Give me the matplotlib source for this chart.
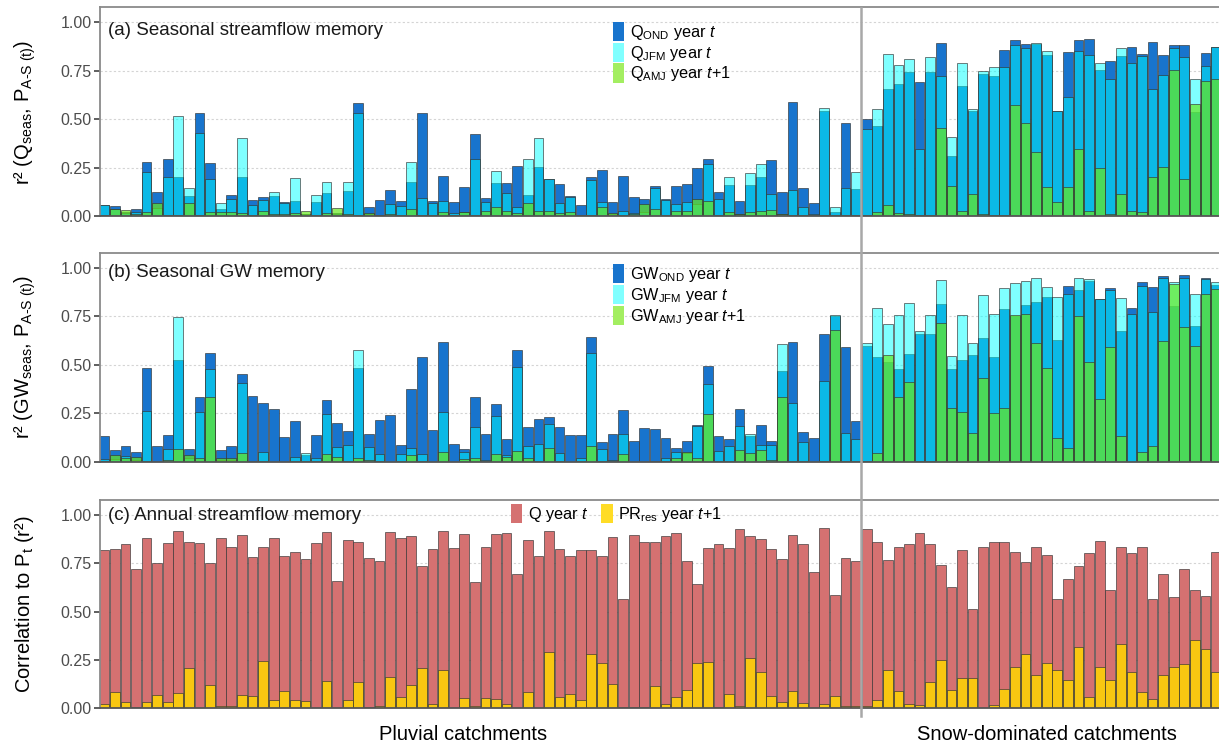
import matplotlib
matplotlib.use("Agg")
import matplotlib.pyplot as plt
from matplotlib.patches import Patch
from matplotlib.lines import Line2D
import numpy as np

plt.rcParams['font.family'] = ['Liberation Sans', 'DejaVu Sans']
plt.rcParams['mathtext.fontset'] = 'custom'
plt.rcParams['mathtext.rm'] = 'Liberation Sans'
plt.rcParams['mathtext.it'] = 'Liberation Sans:italic'
plt.rcParams['mathtext.bf'] = 'Liberation Sans:bold'
plt.rcParams['mathtext.default'] = 'regular'

# 72 pluvial catchments followed by snow-dominated ones (last one cut by the figure edge)
n_pluvial = 72

q_ond = [0.058, 0.052, 0.02, 0.036, 0.28, 0.126, 0.294, 0.203, 0.103, 0.53,
         0.272, 0.034, 0.11, 0.20, 0.083, 0.096, 0.103, 0.07, 0.076, 0.01,
         0.072, 0.12, 0.015, 0.129, 0.582, 0.046, 0.08, 0.136, 0.079, 0.174,
         0.532, 0.077, 0.206, 0.07, 0.151, 0.425, 0.091, 0.172, 0.169, 0.26,
         0.11, 0.251, 0.19, 0.165, 0.103, 0.055, 0.2, 0.236, 0.07, 0.206,
         0.1, 0.088, 0.155, 0.086, 0.155, 0.165, 0.25, 0.293, 0.124, 0.158,
         0.077, 0.16, 0.203, 0.289, 0.126, 0.59, 0.143, 0.065, 0.544, 0.022,
         0.478, 0.138,
         0.499, 0.465, 0.654, 0.682, 0.744, 0.69, 0.744, 0.892, 0.31, 0.671,
         0.544, 0.733, 0.723, 0.859, 0.907, 0.886, 0.886, 0.83, 0.544, 0.845,
         0.909, 0.912, 0.754, 0.8, 0.826, 0.874, 0.836, 0.9, 0.831, 0.88,
         0.881, 0.539, 0.843, 0.874]
q_jfm = [0.055, 0.035, 0.015, 0.02, 0.229, 0.04, 0.203, 0.518, 0.143, 0.427,
         0.189, 0.065, 0.086, 0.40, 0.055, 0.083, 0.122, 0.068, 0.198, 0.01,
         0.108, 0.174, 0.012, 0.174, 0.534, 0.01, 0.005, 0.062, 0.053, 0.277,
         0.095, 0.069, 0.079, 0.014, 0.02, 0.296, 0.07, 0.232, 0.117, 0.045,
         0.293, 0.403, 0.189, 0.065, 0.10, 0.005, 0.184, 0.072, 0.01, 0.024,
         0.017, 0.02, 0.146, 0.083, 0.06, 0.072, 0.06, 0.268, 0.086, 0.2,
         0.01, 0.22, 0.267, 0.114, 0.01, 0.134, 0.045, 0.01, 0.556, 0.045,
         0.143, 0.229,
         0.448, 0.551, 0.835, 0.781, 0.812, 0.344, 0.819, 0.725, 0.41, 0.792,
         0.554, 0.747, 0.771, 0.768, 0.88, 0.866, 0.895, 0.852, 0.54, 0.616,
         0.849, 0.833, 0.788, 0.707, 0.869, 0.788, 0.828, 0.657, 0.73, 0.866,
         0.819, 0.709, 0.776, 0.87]
q_amj = [0.005, 0.037, 0.03, 0.01, 0.02, 0.065, 0.005, 0.005, 0.065, 0.005,
         0.02, 0.02, 0.02, 0.014, 0.005, 0.024, 0.01, 0.01, 0.014, 0.024,
         0.005, 0.014, 0.04, 0.01, 0.005, 0.014, 0.005, 0.01, 0.005, 0.034,
         0.005, 0.005, 0.019, 0.005, 0.019, 0.005, 0.024, 0.048, 0.027, 0.014,
         0.065, 0.024, 0.024, 0.014, 0.02, 0.005, 0.005, 0.045, 0.017, 0.005,
         0.01, 0.06, 0.034, 0.005, 0.024, 0.024, 0.09, 0.076, 0.005, 0.02,
         0.01, 0.02, 0.024, 0.031, 0.01, 0.005, 0.005, 0.005, 0.005, 0.005,
         0.005, 0.005,
         0.005, 0.02, 0.055, 0.014, 0.008, 0.005, 0.005, 0.453, 0.155, 0.024,
         0.114, 0.008, 0.005, 0.005, 0.571, 0.482, 0.332, 0.148, 0.07, 0.148,
         0.348, 0.028, 0.248, 0.01, 0.112, 0.028, 0.02, 0.2, 0.251, 0.754,
         0.193, 0.576, 0.697, 0.705]

gw_ond = [0.134, 0.058, 0.081, 0.048, 0.485, 0.079, 0.136, 0.522, 0.065, 0.335,
          0.562, 0.058, 0.081, 0.454, 0.337, 0.301, 0.27, 0.125, 0.208, 0.034,
          0.137, 0.32, 0.2, 0.16, 0.481, 0.143, 0.215, 0.239, 0.084, 0.376,
          0.538, 0.162, 0.619, 0.089, 0.067, 0.335, 0.143, 0.296, 0.119, 0.574,
          0.177, 0.218, 0.232, 0.179, 0.136, 0.136, 0.644, 0.101, 0.143, 0.265,
          0.105, 0.175, 0.167, 0.124, 0.07, 0.105, 0.187, 0.491, 0.132, 0.117,
          0.27, 0.134, 0.187, 0.105, 0.469, 0.619, 0.151, 0.12, 0.656, 0.752,
          0.589, 0.21,
          0.598, 0.54, 0.515, 0.476, 0.553, 0.658, 0.658, 0.813, 0.478, 0.524,
          0.55, 0.636, 0.54, 0.789, 0.75, 0.808, 0.823, 0.847, 0.627, 0.905,
          0.887, 0.931, 0.839, 0.897, 0.674, 0.794, 0.928, 0.902, 0.957, 0.8,
          0.962, 0.699, 0.948, 0.91]
gw_jfm = [0.012, 0.015, 0.029, 0.01, 0.263, 0.0, 0.064, 0.744, 0.02, 0.254,
          0.476, 0.01, 0.01, 0.407, 0.004, 0.052, 0.0, 0.0, 0.022, 0.045,
          0.017, 0.244, 0.077, 0.086, 0.577, 0.074, 0.038, 0.0, 0.041, 0.072,
          0.038, 0.0, 0.254, 0.0, 0.052, 0.18, 0.01, 0.237, 0.034, 0.49,
          0.079, 0.089, 0.192, 0.046, 0.0, 0.02, 0.562, 0.064, 0.01, 0.141,
          0.0, 0.0, 0.0, 0.017, 0.048, 0.045, 0.184, 0.399, 0.057, 0.079,
          0.182, 0.141, 0.086, 0.086, 0.607, 0.304, 0.103, 0.0, 0.418, 0.754,
          0.146, 0.115,
          0.613, 0.792, 0.711, 0.756, 0.816, 0.675, 0.756, 0.938, 0.545, 0.754,
          0.612, 0.859, 0.761, 0.897, 0.923, 0.933, 0.945, 0.902, 0.849, 0.866,
          0.948, 0.943, 0.838, 0.883, 0.842, 0.763, 0.907, 0.77, 0.945, 0.928,
          0.945, 0.864, 0.943, 0.928]
gw_amj = [0.005, 0.034, 0.017, 0.024, 0.005, 0.0, 0.008, 0.064, 0.033, 0.017,
          0.332, 0.017, 0.017, 0.043, 0.0, 0.005, 0.0, 0.0, 0.005, 0.005,
          0.005, 0.038, 0.022, 0.005, 0.017, 0.01, 0.005, 0.0, 0.005, 0.034,
          0.005, 0.0, 0.052, 0.0, 0.012, 0.02, 0.005, 0.038, 0.026, 0.055,
          0.02, 0.005, 0.069, 0.005, 0.0, 0.005, 0.082, 0.005, 0.005, 0.038,
          0.0, 0.0, 0.005, 0.005, 0.017, 0.048, 0.017, 0.247, 0.005, 0.005,
          0.06, 0.043, 0.058, 0.01, 0.332, 0.005, 0.005, 0.0, 0.005, 0.677,
          0.005, 0.005,
          0.005, 0.045, 0.55, 0.335, 0.409, 0.005, 0.005, 0.713, 0.275, 0.258,
          0.15, 0.43, 0.249, 0.275, 0.756, 0.76, 0.61, 0.481, 0.12, 0.072,
          0.753, 0.512, 0.321, 0.593, 0.131, 0.0, 0.052, 0.081, 0.624, 0.914,
          0.696, 0.598, 0.863, 0.89]

q_annual = [0.819, 0.826, 0.85, 0.722, 0.881, 0.75, 0.853, 0.917, 0.859, 0.857,
            0.75, 0.881, 0.834, 0.895, 0.783, 0.833, 0.879, 0.786, 0.807, 0.771,
            0.857, 0.912, 0.657, 0.872, 0.86, 0.776, 0.76, 0.912, 0.881, 0.891,
            0.736, 0.826, 0.917, 0.829, 0.903, 0.652, 0.833, 0.902, 0.905, 0.695,
            0.871, 0.788, 0.917, 0.824, 0.79, 0.819, 0.819, 0.788, 0.884, 0.564,
            0.895, 0.859, 0.86, 0.891, 0.907, 0.762, 0.643, 0.828, 0.848, 0.831,
            0.929, 0.89, 0.874, 0.822, 0.772, 0.895, 0.852, 0.705, 0.931, 0.588,
            0.778, 0.76,
            0.928, 0.859, 0.769, 0.833, 0.848, 0.905, 0.852, 0.74, 0.628, 0.817,
            0.512, 0.836, 0.86, 0.862, 0.81, 0.755, 0.833, 0.795, 0.567, 0.666,
            0.736, 0.802, 0.864, 0.612, 0.834, 0.802, 0.836, 0.564, 0.693, 0.578,
            0.719, 0.61, 0.583, 0.807]
pr_res = [0.024, 0.086, 0.031, 0.005, 0.031, 0.067, 0.031, 0.078, 0.21, 0.002,
          0.122, 0.01, 0.01, 0.069, 0.062, 0.245, 0.041, 0.088, 0.041, 0.04,
          0.002, 0.14, 0.002, 0.041, 0.134, 0.007, 0.01, 0.16, 0.059, 0.121,
          0.207, 0.022, 0.198, 0.002, 0.055, 0.01, 0.052, 0.047, 0.021, 0.003,
          0.086, 0.002, 0.293, 0.057, 0.076, 0.045, 0.283, 0.233, 0.124, 0.007,
          0.007, 0.007, 0.116, 0.021, 0.057, 0.097, 0.233, 0.238, 0.007, 0.072,
          0.01, 0.26, 0.186, 0.062, 0.034, 0.091, 0.029, 0.002, 0.024, 0.062,
          0.01, 0.01,
          0.014, 0.041, 0.197, 0.088, 0.021, 0.016, 0.134, 0.248, 0.093, 0.155,
          0.159, 0.002, 0.016, 0.098, 0.214, 0.283, 0.172, 0.233, 0.197, 0.145,
          0.316, 0.059, 0.216, 0.145, 0.331, 0.188, 0.083, 0.05, 0.174, 0.216,
          0.228, 0.352, 0.309, 0.188]

yticks = [0.0, 0.25, 0.5, 0.75, 1.0]

# colours (OND opaque, the others semi-transparent so overlaps mix)
c_ond = '#1874CD'
c_jfm = (0.0, 1.0, 1.0, 0.5)
c_amj = (103 / 255, 231 / 255, 30 / 255, 0.7)
c_q = '#D57171'
c_pr = (1.0, 0.843, 0.0, 0.85)
edge = (0.2, 0.2, 0.2, 0.75)

W, H = 1219, 746
fig = plt.figure(figsize=(W / 100, H / 100), dpi=100)

x = np.arange(len(q_ond))
bw = 0.92
xmin, xmax = -0.397, 105.27

panels = [(7.3, 216.0), (252.7, 461.7), (500.0, 708.3)]
axes = []
for top, bot in panels:
    ax = fig.add_axes([100 / W, 1 - bot / H, 1 - 100 / W, (bot - top) / H])
    ax.set_xlim(xmin, xmax)
    ax.set_ylim(0, 1.077)
    ax.set_yticks(yticks)
    ax.set_yticklabels(['%.2f' % v for v in yticks])
    ax.set_xticks([])
    ax.grid(axis='y', color='#d4d4d4', linestyle=(0, (2, 2)), linewidth=0.8)
    ax.set_axisbelow(True)
    ax.tick_params(axis='y', length=4, width=1.1, color='#333333',
                   labelsize=11.5, labelcolor='#4d4d4d', pad=2)
    for s in ['top', 'left']:
        ax.spines[s].set_color('#8a8a8a')
        ax.spines[s].set_linewidth(1.3)
    ax.spines['bottom'].set_color('#555555')
    ax.spines['bottom'].set_linewidth(1.3)
    ax.spines['right'].set_visible(False)
    axes.append(ax)

ax_a, ax_b, ax_c = axes

bar_kw = dict(width=bw, edgecolor=edge, linewidth=0.6)
for ax, ond, jfm, amj in [(ax_a, q_ond, q_jfm, q_amj), (ax_b, gw_ond, gw_jfm, gw_amj)]:
    ax.bar(x, ond, color=c_ond, **bar_kw)
    ax.bar(x, jfm, color=c_jfm, **bar_kw)
    ax.bar(x, amj, color=c_amj, **bar_kw)

ax_c.bar(x, q_annual, color=c_q, **bar_kw)
ax_c.bar(x, pr_res, color=c_pr, **bar_kw)

# panel titles
title_kw = dict(fontsize=13.5, va='center', ha='left', color='#1a1a1a')
ax_a.text(0.007, 0.891, '(a) Seasonal streamflow memory', transform=ax_a.transAxes, **title_kw)
ax_b.text(0.007, 0.903, '(b) Seasonal GW memory', transform=ax_b.transAxes, **title_kw)
ax_c.text(0.007, 0.925, '(c) Annual streamflow memory', transform=ax_c.transAxes, **title_kw)

# legends
light_jfm = '#80FFFF'
light_amj = '#A3EE61'
leg_kw = dict(frameon=False, fontsize=11.7, handlelength=0.7, handleheight=1.45,
              labelspacing=0.05, handletextpad=0.35, borderpad=0, loc='upper left')
h_a = [Patch(facecolor=c_ond, edgecolor='none'),
       Patch(facecolor=light_jfm, edgecolor='none'),
       Patch(facecolor=light_amj, edgecolor='none')]
ax_a.legend(h_a, [r'Q$_{OND}$ year $\mathit{t}$', r'Q$_{JFM}$ year $\mathit{t}$',
                  r'Q$_{AMJ}$ year $\mathit{t{+}1}$'],
            bbox_to_anchor=(0.451, 0.97), **leg_kw)
ax_b.legend(h_a, [r'GW$_{OND}$ year $\mathit{t}$', r'GW$_{JFM}$ year $\mathit{t}$',
                  r'GW$_{AMJ}$ year $\mathit{t{+}1}$'],
            bbox_to_anchor=(0.451, 0.984), **leg_kw)
h_c = [Patch(facecolor=c_q, edgecolor='none'), Patch(facecolor='#FFDC26', edgecolor='none')]
ax_c.legend(h_c, [r'Q year $\mathit{t}$', r'PR$_{res}$ year $\mathit{t{+}1}$'], ncol=2,
            columnspacing=0.8, bbox_to_anchor=(0.36, 1.02), **leg_kw)

# y labels
ylab_kw = dict(rotation=90, ha='center', va='center', fontsize=14.5)
fig.text(25 / W, 1 - 112 / H, 'r² (Q$_{seas}$, P$_{A\u2010S\\ (t)}$)', **ylab_kw)
fig.text(25 / W, 1 - 357 / H, 'r² (GW$_{seas}$, P$_{A\u2010S\\ (t)}$)', **ylab_kw)
fig.text(25 / W, 1 - 604 / H, 'Correlation to P$_{t}$ (r²)', **ylab_kw)

# separator between pluvial and snow-dominated catchments
to_fig = ax_a.transData + fig.transFigure.inverted()
xsep = to_fig.transform((n_pluvial - 0.5, 0))[0]
fig.add_artist(Line2D([xsep, xsep], [1 - 716 / H, 1 - 8 / H], transform=fig.transFigure,
                      color='#a8a8a8', linewidth=1.8))

fig.text(463 / W, 1 - 735 / H, 'Pluvial catchments', ha='center', va='center', fontsize=14.5)
fig.text(1047 / W, 1 - 735 / H, 'Snow-dominated catchments', ha='center', va='center',
         fontsize=14.5)

fig.savefig('out.png', dpi=100)
